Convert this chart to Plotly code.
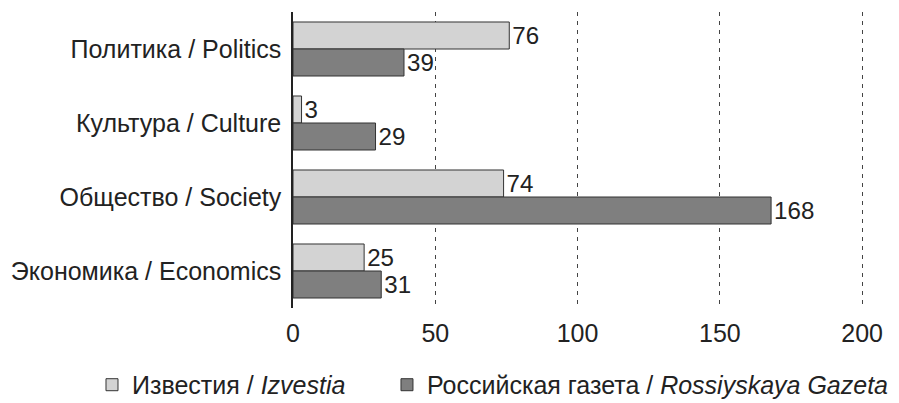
import plotly.graph_objects as go

categories = ["Политика / Politics", "Культура / Culture", "Общество / Society", "Экономика / Economics"]
izvestia = [76, 3, 74, 25]
rg = [39, 29, 168, 31]
series_names = ["Известия / <i>Izvestia</i>", "Российская газета / <i>Rossiyskaya Gazeta</i>"]
x_ticks = [0, 50, 100, 150, 200]

font_family = "'Liberation Sans', Arial, sans-serif"
FS = 25

fig = go.Figure()
fig.add_trace(go.Bar(
    y=categories, x=izvestia, orientation="h", name=series_names[0],
    marker=dict(color="#d3d3d3", line=dict(color="#333333", width=1)),
    text=[str(v) for v in izvestia], textposition="outside",
    textfont=dict(size=FS, color="#222222", family=font_family),
    cliponaxis=False, legend="legend",
))
fig.add_trace(go.Bar(
    y=categories, x=rg, orientation="h", name=series_names[1],
    marker=dict(color="#7f7f7f", line=dict(color="#333333", width=1)),
    text=[str(v) for v in rg], textposition="outside",
    textfont=dict(size=FS, color="#222222", family=font_family),
    cliponaxis=False, legend="legend2",
))

fig.update_layout(
    width=891, height=395,
    margin=dict(l=285, r=34, t=4, b=95, autoexpand=False),
    barmode="group", bargap=0.27, bargroupgap=0,
    paper_bgcolor="white", plot_bgcolor="white",
    font=dict(family=font_family, size=FS, color="#222222"),
    showlegend=True,
    legend=dict(orientation="h", x=-0.3514, xanchor="left", y=-0.26, yanchor="middle",
                font=dict(size=FS, color="#222222")),
    legend2=dict(orientation="h", x=0.1643, xanchor="left", y=-0.26, yanchor="middle",
                 font=dict(size=FS, color="#222222")),
    uniformtext=dict(mode=False),
)
fig.update_xaxes(
    range=[0, 201], tickvals=x_ticks, ticktext=[str(t) for t in x_ticks],
    showgrid=True, gridcolor="#444444", gridwidth=1, griddash="4px,5px",
    zeroline=False, showline=False, ticks="", ticklabelstandoff=8,
    tickfont=dict(size=FS, color="#222222"), automargin=False,
)
fig.update_yaxes(
    autorange="reversed", showline=True, linecolor="#222222", linewidth=1.5,
    showgrid=False, ticks="", ticklabelstandoff=5,
    tickfont=dict(size=FS, color="#222222"), automargin=False,
)

fig.write_html("out.html")
